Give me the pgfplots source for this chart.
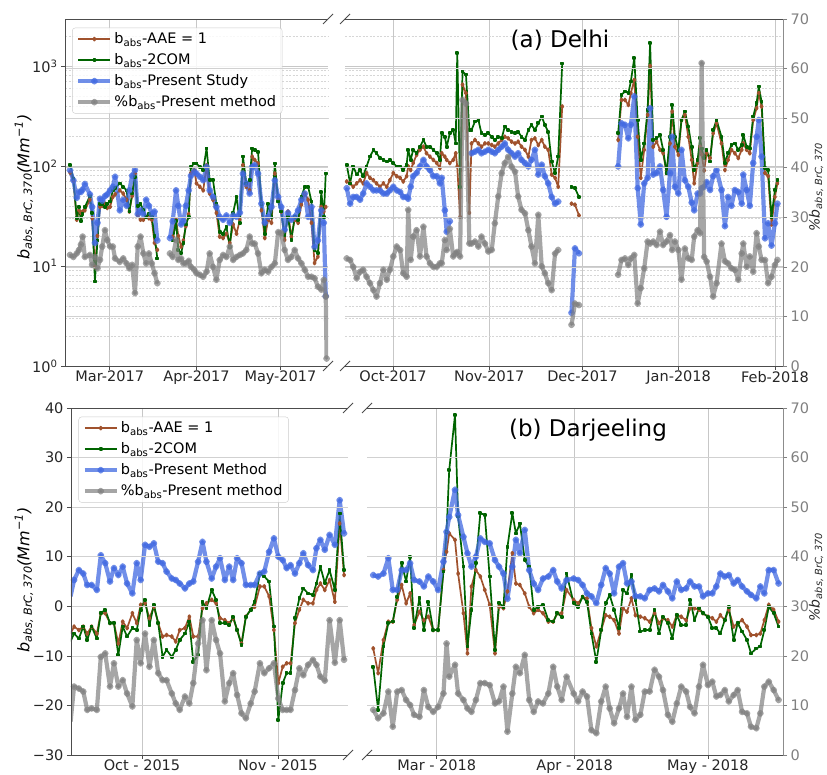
\documentclass[border=0pt]{standalone}
\usepackage{fontspec}
\setmainfont{DejaVu Sans}
\usepackage{pgfplots}
\pgfplotsset{compat=1.18}
\usepackage{pgfplotstable}

\definecolor{cbrown}{HTML}{A0522D}
\definecolor{cgreen}{HTML}{006400}
\definecolor{cblue}{HTML}{4169E1}
\definecolor{cgray}{HTML}{808080}
\newcommand{\ticksize}{\fontsize{14.5}{17}\selectfont}

% ---------------- Delhi, Feb-May 2017 (x = day of 2017) ----------------
\pgfplotstableread{
d g r b p
44.8 103 86 91 22.4
46.0 75 72 72 22.0
47.2 30 29 48 22.7
48.0 39 36 55 23.4
48.7 28 34 55 24.5
49.3 33 35 58 26.1
50.1 39 36 66 22.0
51.9 50 46 52 22.4
52.7 34 30 39 20.4
53.7 7.0 9.8 17 22.0
54.6 18 20 27 19.7
55.5 42 39 47 21.4
56.3 42 40 45 24.1
57.3 39 42 50 27.4
58.1 42 38 52 25.4
59.1 44 39 57 24.1
60.1 57 49 62 24.1
60.9 60 52 78 21.7
62.6 67 57 36 21.0
63.8 62 53 46 21.7
65.0 57 46 40 20.7
66.0 35 35 57 19.7
67.0 53 50 80 20.4
68.0 78 84 91 14.7
69.0 40 32 33 24.1
70.0 42 29 36 26.1
71.0 36 29 33 22.7
72.0 31 31 46 20.7
73.0 33 30 40 22.7
74.0 31 29 33 20.7
75.0 20 17 35 18.7
76.0 11.9 14.5 18 16.7
78.0 nan nan nan nan
80.5 nan nan 19 22.7
81.5 18 19.6 28 22.0
82.7 28 29 57 25.4
83.5 14.5 20 40 21.4
84.5 13.4 15.6 26 21.7
85.3 17 18 28 20.7
86.2 26 25 40 20.7
87.2 31 33 57 21.2
88.0 98 85 80 20.0
89.2 106 91 88 19.4
90.0 106 67 84 18.7
91.2 98 62 78 18.4
92.4 91 57 72 18.0
93.6 150 102 98 19.0
94.7 72 53 57 22.7
95.9 72 46 49 20.0
97.1 42 34 39 17.4
98.3 22 19.6 31 21.4
99.5 21 19 29 22.4
100.7 24.7 21 32 22.0
101.9 15.6 17 27 24.1
103.1 34 26 32 21.4
104.3 49 21 31 22.0
105.5 27 29 34 22.4
106.6 124 102 84 22.7
107.8 67 62 66 23.4
109.0 72 57 53 26.1
109.9 150 124 98 24.7
110.8 145 115 102 24.7
112.0 139 106 84 22.7
113.2 42 36 42 18.7
114.4 21 19 27 19.4
115.6 42 29 31 19.0
116.8 31 27 39 20.0
118.0 106 84 72 20.7
119.2 44 46 49 27.0
120.3 35 35 39 26.8
121.5 20.4 18.2 23 23.4
122.7 31 35 34 21.4
123.9 18.2 19.6 29 22.0
125.1 31 29 31 23.4
126.3 29 27 36 21.7
127.5 49 41 46 20.7
128.7 62 53 53 19.4
129.9 62 46 31 18.0
131.1 44 27 39 18.0
132.2 14.5 10.7 15.5 17.7
133.4 13.4 12.4 18 16.0
134.6 55 39 36 15.4
135.5 31 35 27 17.4
136.2 84 39 5 14.0
136.5 nan nan nan 1.5
}\TL

% ---------------- Delhi, Sep 2017 - Feb 2018 (x = day counted from 1 Jan 2017) ----------------
\pgfplotstableread{
d g r b p
258.1 103 70 60 21.7
259.2 67 67 42 21.4
260.2 99 62 49 20.0
261.3 82 67 49 17.7
262.4 91 72 46 19.0
263.4 79 67 53 19.4
264.5 99 85 67 18.0
265.6 124 76 62 16.7
266.7 145 72 57 15.3
267.7 134 67 57 14.0
268.8 120 62 57 16.7
269.9 115 67 53 19.4
271.0 111 62 53 17.4
272.0 115 72 57 19.4
273.1 107 85 62 22.1
274.2 99 79 57 24.1
275.3 99 76 55 23.4
276.3 91 70 49 18.7
277.4 103 79 49 18.0
277.9 145 99 47 31.5
278.7 115 91 62 21.4
279.5 145 107 79 26.1
280.6 134 129 85 27.4
281.7 156 145 99 22.1
282.8 182 156 115 28.1
283.8 156 134 99 22.1
284.9 156 124 91 20.7
286.0 145 115 79 20.0
287.1 134 107 79 20.0
288.1 115 95 67 20.7
288.7 212 134 76 20.7
289.7 196 124 36 25.4
290.3 156 115 22 23.4
291.3 212 107 28 27.7
292.4 229 115 nan 22.1
293.2 168 134 nan 22.7
293.7 1340 99 nan 23.0
294.6 62 31 nan 22.1
295.4 880 650 nan 53.7
296.5 820 535 nan 53.0
297.6 229 34 nan 24.7
298.3 229 168 134 24.7
299.4 278 182 139 25.1
300.5 288 168 145 24.1
301.5 212 156 134 26.1
302.6 204 168 139 24.7
303.7 212 168 145 23.1
304.8 196 162 139 23.4
305.8 182 156 134 28.8
306.9 196 168 145 34.2
308.0 189 182 156 38.9
309.0 248 196 168 40.9
310.1 229 189 145 42.2
311.2 220 175 134 40.2
312.3 212 168 124 39.2
313.3 220 175 134 34.2
314.4 196 156 115 31.5
315.5 182 145 107 30.8
316.6 229 124 99 27.4
317.6 258 182 115 24.1
318.7 229 189 145 20.7
319.8 267 162 82 30.5
320.9 312 182 103 20.1
321.9 258 156 79 18.7
323.0 220 145 67 16.7
324.1 111 82 49 15.3
325.2 85 76 42 22.7
326.2 124 62 44 23.4
327.5 1060 393 nan nan
329.0 nan nan nan nan
330.5 62 42 3.4 8.3
331.6 60 41 15 12.6
332.9 49 32 13.4 12.3
340.0 nan nan nan nan
345.5 212 182 99 18.4
346.6 516 457 267 21.4
347.7 556 457 258 21.7
348.8 535 408 189 20.4
349.6 700 535 258 21.7
350.7 1200 724 497 22.4
351.8 288 196 60 12.6
352.8 115 76 26 15.7
353.9 168 145 67 19.7
355.0 363 324 76 25.1
355.8 1700 1000 378 24.7
356.8 182 156 82 25.1
357.9 189 175 85 24.4
359.0 204 145 99 27.1
360.0 145 134 57.5 24.4
361.1 85 85 31 25.1
362.2 196 168 85 26.4
362.9 408 350 196 23.4
363.8 196 156 62 25.1
364.9 145 129 53 23.4
365.9 288 288 145 17.4
367.0 350 324 72 23.7
368.1 248 196 62 21.7
369.2 156 115 43 21.4
370.0 91 67 36 26.1
371.1 115 107 53 27.4
371.9 189 156 53 26.8
372.4 150 130 60 61.1
373.2 120 90 62 22.0
374.0 145 134 69 21.1
375.1 111 120 57.5 18.0
376.1 229 212 79 14.0
377.2 288 267 91 16.7
378.8 196 168 57.5 24.7
379.9 107 91 25 21.1
380.9 134 115 49 20.7
382.0 162 145 40 19.7
383.1 168 134 57.5 19.4
384.2 145 120 55 17.4
385.3 162 145 42 22.7
385.8 204 168 82 24.7
386.9 156 145 57.5 20.0
387.9 150 134 40 22.1
389.0 312 288 107 19.0
390.1 424 378 196 26.8
390.8 622 535 288 24.1
391.7 440 393 124 21.4
392.8 95 85 18.9 21.4
393.8 91 79 26.7 16.7
394.9 31 26 16 18.0
396.0 57.5 49 26.7 20.4
396.8 72 67 42 21.4
}\TR

% ---------------- Darjeeling, Sep-Nov 2015 (x = day counted from 1 Sep 2015) ----------------
\pgfplotstableread{
d g r b p
13.7 -7.1 -5.5 2.0 6.7
14.5 -5.5 -4.1 5.3 13.8
15.6 -6.5 -4.8 7.3 13.4
16.6 -4.1 -4.1 6.6 12.8
17.5 -6.8 -5.5 4.3 9.1
18.5 -4.1 -4.1 4.3 9.4
19.7 -6.5 -5.5 3.3 9.1
20.6 -1.4 -1.4 10.3 19.8
21.6 -0.7 -1.4 8.7 20.5
22.7 -3.4 -3.4 5.0 13.8
23.6 -3.4 -3.4 7.7 18.5
24.6 -9.8 -7.5 6.3 13.8
25.6 -4.1 -3.1 8.0 15.1
26.6 -6.1 -4.4 4.6 12.4
27.8 -4.4 -1.4 2.6 9.8
28.8 -4.8 -3.4 8.7 23.2
29.7 -0.7 0.3 5.3 18.5
30.7 1.3 0.6 12.4 24.5
31.7 -3.8 -2.4 12.0 17.8
32.7 0.3 -0.1 12.7 23.2
33.7 -3.4 -3.4 9.0 16.5
34.7 -10.2 -6.1 8.7 15.1
35.6 -8.8 -5.8 7.0 15.1
36.8 -10.2 -6.1 5.6 12.4
37.7 -8.8 -7.1 5.3 10.4
38.6 -6.8 -4.8 4.6 9.1
39.8 -5.5 -4.4 3.6 11.8
40.8 -3.1 -2.1 4.6 10.4
41.7 -11.2 -6.1 5.0 14.5
42.8 -9.8 -6.1 9.0 22.5
43.8 0.9 -0.4 13.0 27.2
44.7 -0.4 0.6 9.0 17.1
45.9 3.3 1.3 5.6 27.2
46.9 1.3 0.6 8.0 23.2
47.8 -3.4 -2.4 9.7 20.5
48.9 -3.4 -2.8 5.3 10.8
49.9 -3.8 -3.4 8.0 14.5
50.8 -2.1 -2.4 5.3 16.5
51.7 -4.8 -4.8 9.7 12.1
52.7 -7.8 -7.5 8.7 8.4
53.7 -2.1 -2.1 4.3 7.4
54.8 -0.7 -0.7 4.3 10.4
55.7 0.9 -0.1 4.3 12.8
56.9 6.6 4.0 6.6 18.5
57.9 6.0 4.0 7.0 16.5
59.0 5.0 2.0 11.0 17.5
60.1 -4.1 -4.8 13.7 18.5
61.1 -23.0 -15.5 10.0 11.4
62.1 -15.5 -12.2 9.3 9.1
63.0 -13.5 -11.5 7.7 9.1
63.9 -13.5 -11.5 8.3 9.1
64.9 -2.4 -3.4 6.6 13.1
65.9 1.6 -0.7 8.7 17.5
66.8 3.6 1.3 10.7 16.1
67.9 2.6 0.6 8.3 18.2
69.0 2.3 0.6 7.3 19.2
69.8 4.6 3.3 11.7 18.2
70.7 8.0 4.6 13.4 15.8
71.7 4.7 3.3 11.4 15.0
72.8 7.3 5.3 14.4 27.2
74.0 3.3 0.9 12.4 18.6
75.1 18.7 16.7 21.4 27.2
76.1 7.3 6.3 14.7 19.2
}\BL

% ---------------- Darjeeling, Feb-May 2018 (x = day of 2018) ----------------
\pgfplotstableread{
d g r b p
44.7 -12.2 -8.5 6.3 9.1
45.8 -20.9 -13.5 6.0 7.4
47.0 -8.1 -6.8 6.6 8.4
48.1 -3.4 -3.1 9.7 12.8
49.1 -3.1 -3.1 3.3 5.7
50.1 1.9 1.3 3.3 12.8
51.1 8.7 4.3 7.3 13.1
52.1 5.0 0.6 7.3 11.1
53.0 10.0 2.6 8.7 10.1
53.9 -4.4 -3.8 5.3 8.1
55.1 1.6 -1.1 5.0 7.7
56.1 -4.8 -2.8 4.0 13.1
57.1 0.9 -2.1 6.0 9.7
58.2 -4.8 -4.8 5.0 8.7
59.3 -4.8 -4.8 3.3 9.7
60.5 7.0 7.3 9.0 12.4
61.2 15.0 11.0 15.0 22.5
61.8 27.5 14.7 18.0 15.8
63.1 38.6 13.4 23.5 18.2
63.8 18.1 6.6 18.4 12.4
65.0 8.0 -1.4 14.0 11.1
65.9 -8.1 -9.5 10.7 9.4
66.8 -0.7 4.0 8.0 8.7
67.8 8.7 7.3 10.0 11.1
68.8 18.8 6.0 13.7 14.5
69.8 18.4 3.3 13.0 14.5
70.9 6.0 0.3 12.7 14.1
72.1 -8.8 -9.5 9.3 10.4
73.0 0.6 -0.1 8.0 10.8
74.0 -0.1 -0.4 6.6 13.8
74.9 12.0 3.0 1.5 4.7
76.0 18.8 10.7 8.0 12.4
76.8 14.7 4.6 13.4 17.8
77.7 16.7 4.3 10.7 16.5
78.8 9.3 2.6 15.4 20.2
79.8 8.0 -0.1 7.3 11.1
80.8 -0.7 -1.4 4.6 8.7
81.8 -0.1 -0.7 3.3 10.8
82.9 0.3 -1.4 5.6 10.4
84.1 -2.8 -3.1 6.0 12.4
85.2 -3.1 -3.1 7.3 17.8
86.1 -1.4 -1.4 5.0 13.8
87.1 -2.1 -1.4 3.6 11.1
88.2 6.6 3.3 5.3 15.8
89.8 0.6 1.3 5.6 12.4
90.8 -0.1 0.6 5.3 10.8
91.8 1.9 1.9 4.3 12.8
92.8 0.9 1.6 2.6 11.8
93.8 -5.5 -4.4 2.0 5.0
94.9 -11.2 -8.1 0.6 4.4
96.0 -4.8 -4.8 4.3 10.8
97.0 0.6 -1.8 7.7 13.8
97.9 2.3 -2.1 6.6 9.4
98.9 -0.7 -2.8 2.6 6.4
100.0 -4.4 -5.5 8.0 9.4
100.9 3.3 -0.4 8.7 12.4
101.8 2.6 -1.1 4.6 7.7
102.8 6.3 1.6 5.0 13.8
103.7 1.3 -1.8 2.0 7.1
104.8 -5.1 -2.1 2.0 8.1
105.8 -4.8 -2.4 1.6 12.8
106.9 -4.8 -3.1 3.3 12.8
108.0 -0.7 -1.4 3.6 17.2
109.0 -5.5 -3.4 3.0 15.8
109.9 -2.1 -2.4 4.3 13.1
111.0 -3.4 -2.8 3.0 8.1
112.0 -6.5 -4.1 1.6 6.7
113.0 -1.8 -1.8 5.0 10.4
114.0 -3.8 -2.1 3.3 13.8
115.1 -3.8 -2.8 3.6 12.8
116.0 1.3 -0.4 5.0 9.7
117.0 -2.8 -0.4 4.0 8.4
118.0 -0.4 -0.7 4.0 13.8
118.9 -1.4 -1.4 2.0 18.2
120.0 -2.1 -2.1 2.6 14.1
121.0 -4.4 -2.4 2.6 14.8
121.9 -4.4 -3.1 4.0 11.8
122.8 -5.5 -1.8 6.6 12.1
123.8 -2.8 -2.8 6.0 13.1
124.7 -0.1 -0.7 6.3 10.8
125.8 -6.8 -4.1 4.6 12.1
126.7 -3.4 -3.4 5.3 13.1
127.7 -5.1 -2.8 4.0 8.7
128.8 -6.8 -4.1 3.0 8.4
129.7 -9.5 -5.8 2.3 5.7
130.9 -8.5 -5.8 1.6 5.4
131.8 -8.1 -5.5 4.0 8.4
132.7 -4.8 -2.8 2.6 13.8
133.7 -0.1 0.3 7.3 14.8
134.8 -1.4 -0.7 7.3 13.1
135.9 -4.1 -3.1 4.6 11.1
}\BR

\pgfplotsset{
  sbrown/.style={cbrown, line width=1.7pt, line join=round, mark=diamond*, mark size=1.5pt, mark options={solid}},
  sgreen/.style={cgreen, line width=1.7pt, line join=round, mark=square*, mark size=1.0pt, mark options={solid}},
  sblue/.style={cblue, opacity=0.75, line width=4.2pt, line join=round, mark=*, mark size=1.3pt},
  sgray/.style={cgray, opacity=0.7, line width=4.2pt, line join=round, mark=*, mark size=1.3pt},
  base/.style={scale only axis, anchor=south west, height=347pt,
    axis line style={draw=none}, tick align=outside, major tick length=4pt, minor tick length=0pt,
    tick style={black!70, line width=0.6pt},
    major grid style={black!22, line width=0.6pt},
    minor grid style={black!16, line width=0.4pt, dash pattern=on 2pt off 1.5pt},
    xmajorgrids, ymajorgrids, unbounded coords=jump, filter discard warning=false,
    tick label style={font=\ticksize, text=black!85},
    xticklabel style={inner ysep=1pt},
    xtick pos=bottom, ytick pos=left, clip=true},
  twin/.style={scale only axis, anchor=south west, height=347pt,
    axis line style={draw=none}, tick align=outside, major tick length=4pt,
    xtick=\empty, ymin=0, ymax=70, ytick={0,10,20,30,40,50,60,70},
    yticklabels={0,10,20,30,40,50,60,70},
    ymajorgrids, major grid style={black!18, line width=0.5pt},
    unbounded coords=jump, filter discard warning=false,
    ytick pos=right, yticklabel pos=right,
    tick style={cgray, line width=0.6pt},
    tick label style={font=\ticksize, text=cgray}, clip=true},
  leg/.style={legend style={at={(0.027,0.975)}, anchor=north west, font=\fontsize{14.5}{17}\selectfont,
    draw=black!20, fill=white, fill opacity=0.85, text opacity=1, rounded corners=3pt,
    inner xsep=4pt, inner ysep=3pt, row sep=4.5pt, cells={anchor=west}},
    legend image code/.code={\draw[mark repeat=2, mark phase=2, ##1] plot coordinates {(0pt,0pt) (16pt,0pt) (32pt,0pt)};}},
}

\begin{document}
\begin{tikzpicture}
\path[use as bounding box] (0pt,0pt) rectangle (827pt,775pt);

% ======== Top left ========
\begin{axis}[base, leg, at={(65pt,409pt)}, width=263pt, xmin=43, xmax=137,
  ymode=log, ymin=1, ymax=2950,
  xtick={59,90,120}, xticklabels={Mar-2017,Apr-2017,May-2017},
  ytick={1,10,100,1000},
  yticklabels={10\textsuperscript{0},10\textsuperscript{1},10\textsuperscript{2},10\textsuperscript{3}},
  minor ytick={2,3,4,5,6,7,8,9,20,30,40,50,60,70,80,90,200,300,400,500,600,700,800,900,2000},
  yminorgrids]
\addplot[sbrown] table[x=d,y=r]{\TL};
\addlegendentry{b\textsubscript{abs}-AAE = 1}
\addplot[sgreen] table[x=d,y=g]{\TL};
\addlegendentry{b\textsubscript{abs}-2COM}
\addplot[sblue] table[x=d,y=b]{\TL};
\addlegendentry{b\textsubscript{abs}-Present Study}
\addlegendimage{sgray}
\addlegendentry{\%b\textsubscript{abs}-Present method}
\end{axis}
\begin{axis}[twin, at={(65pt,409pt)}, width=263pt, xmin=43, xmax=137,
  ytick={10,20,30,40,50,60}, yticklabel=\empty, ytick style={draw=none}]
\addplot[sgray] table[x=d,y=p]{\TL};
\end{axis}

% ======== Top right ========
\begin{axis}[base, at={(345pt,409pt)}, width=438pt, xmin=257.55, xmax=398.6,
  ymode=log, ymin=1, ymax=2950,
  xtick={273,304,334,365,396}, xticklabels={Oct-2017,Nov-2017,Dec-2017,Jan-2018,Feb-2018},
  ytick={1,10,100,1000}, yticklabel=\empty, ytick style={draw=none},
  minor ytick={2,3,4,5,6,7,8,9,20,30,40,50,60,70,80,90,200,300,400,500,600,700,800,900,2000},
  yminorgrids]
\addplot[sbrown] table[x=d,y=r]{\TR};
\addplot[sgreen] table[x=d,y=g]{\TR};
\addplot[sblue] table[x=d,y=b]{\TR};
\end{axis}
\begin{axis}[twin, at={(345pt,409pt)}, width=438pt, xmin=257.55, xmax=398.6]
\addplot[sgray] table[x=d,y=p]{\TR};
\end{axis}

% ======== Bottom left ========
\begin{axis}[base, leg, at={(71pt,20pt)}, width=277pt, xmin=13.8, xmax=77,
  ymin=-30, ymax=40,
  xtick={30,61}, xticklabels={Oct - 2015,Nov - 2015},
  ytick={-30,-20,-10,0,10,20,30,40},
  yticklabels={−30,−20,−10,0,10,20,30,40}]
\addplot[sbrown] table[x=d,y=r]{\BL};
\addlegendentry{b\textsubscript{abs}-AAE = 1}
\addplot[sgreen] table[x=d,y=g]{\BL};
\addlegendentry{b\textsubscript{abs}-2COM}
\addplot[sblue] table[x=d,y=b]{\BL};
\addlegendentry{b\textsubscript{abs}-Present Method}
\addlegendimage{sgray}
\addlegendentry{\%b\textsubscript{abs}-Present method}
\end{axis}
\begin{axis}[twin, at={(71pt,20pt)}, width=277pt, xmin=13.8, xmax=77,
  ytick={10,20,30,40,50,60}, yticklabel=\empty, ytick style={draw=none}]
\addplot[sgray] table[x=d,y=p]{\BL};
\end{axis}

% ======== Bottom right ========
\begin{axis}[base, at={(367pt,20pt)}, width=416pt, xmin=43.3, xmax=136.9,
  ymin=-30, ymax=40,
  xtick={59,90,120}, xticklabels={Mar - 2018,Apr - 2018,May - 2018},
  ytick={-30,-20,-10,0,10,20,30,40}, yticklabel=\empty, ytick style={draw=none}]
\addplot[sbrown] table[x=d,y=r]{\BR};
\addplot[sgreen] table[x=d,y=g]{\BR};
\addplot[sblue] table[x=d,y=b]{\BR};
\end{axis}
\begin{axis}[twin, at={(367pt,20pt)}, width=416pt, xmin=43.3, xmax=136.9]
\addplot[sgray] table[x=d,y=p]{\BR};
\end{axis}

% ======== spines and break marks ========
\begin{scope}[black!70, line width=0.8pt]
\draw (328pt,409pt) -- (65pt,409pt) -- (65pt,756pt) -- (328pt,756pt);
\draw (345pt,409pt) -- (783pt,409pt);
\draw (345pt,756pt) -- (783pt,756pt);
\draw (348pt,20pt) -- (71pt,20pt) -- (71pt,367pt) -- (348pt,367pt);
\draw (367pt,20pt) -- (783pt,20pt);
\draw (367pt,367pt) -- (783pt,367pt);
\foreach \xx/\yy in {328/756,345/756,328/409,345/409,348/367,367/367,348/20,367/20}
  \draw (\xx pt-5pt,\yy pt-5pt) -- (\xx pt+5pt,\yy pt+5pt);
\end{scope}
\draw[black!45, line width=0.8pt] (783pt,409pt) -- (783pt,756pt);
\draw[black!45, line width=0.8pt] (783pt,20pt) -- (783pt,367pt);

% ======== titles and axis labels ========
\node[font=\fontsize{23}{27}\selectfont] at (560pt,735pt) {(a) Delhi};
\node[font=\fontsize{23}{27}\selectfont] at (588pt,345pt) {(b) Darjeeling};
\node[rotate=90, font=\fontsize{16}{19}\selectfont\itshape] at (24pt,588pt)
  {b\textsubscript{abs, BrC, 370}(Mm\textsuperscript{−1})};
\node[rotate=90, font=\fontsize{16}{19}\selectfont\itshape] at (24pt,195pt)
  {b\textsubscript{abs, BrC, 370}(Mm\textsuperscript{−1})};
\node[rotate=90, font=\fontsize{14}{17}\selectfont\itshape, text=black!85] at (816pt,588pt)
  {\%b\textsubscript{abs, BrC, 370}};
\node[rotate=90, font=\fontsize{14}{17}\selectfont\itshape, text=black!85] at (816pt,198pt)
  {\%b\textsubscript{abs, BrC, 370}};
\end{tikzpicture}
\end{document}
